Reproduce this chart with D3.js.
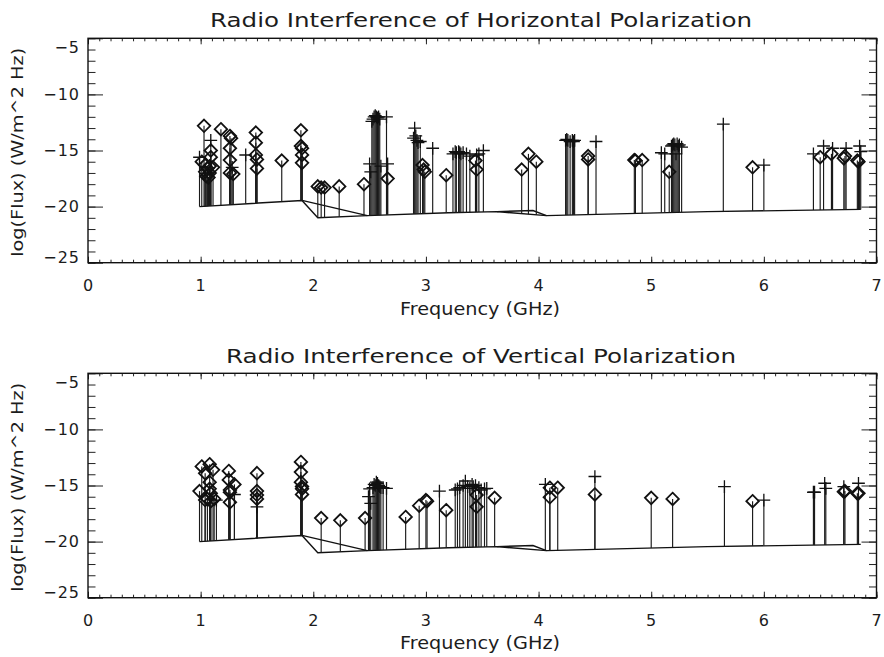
<!DOCTYPE html>
<html>
<head>
<meta charset="utf-8">
<script src="https://cdn.jsdelivr.net/npm/d3@7"></script>
<style>
body { margin: 0; background: #fff; }
text { font-family: "DejaVu Sans", sans-serif; fill: #1c1c1c; }
</style>
</head>
<body>
<div id="chart"></div>
<script>
// threshold (sensitivity) line, shared by both panels
var baseFreq = [0.99, 1.9, 2.04, 2.48, 3.2, 3.63, 4.07, 5.5, 6.86];
var baseFlux = [-20.0, -19.45, -21.0, -20.8, -20.55, -20.45, -20.8, -20.45, -20.25];
var upperFreq = [1.9, 2.48];          // extra back-tracking segment
var upperFlux = [-19.45, -20.8];
var wedgeFreq = [3.63, 3.95, 4.07];   // small wedge near 4 GHz
var wedgeFlux = [-20.45, -20.35, -20.8];

// horizontal polarization
var hFreq = [0.99,1.01,1.03,1.04,1.04,1.05,1.06,1.07,1.08,1.08,1.09,1.09,1.09,1.11,1.18,
  1.26,1.26,1.26,1.26,1.27,1.28,1.29,1.40,
  1.49,1.49,1.49,1.50,1.50,1.72,
  1.89,1.89,1.90,1.90,1.90,
  2.04,2.07,2.10,2.23,2.45,
  2.50,2.51,2.52,2.53,2.54,2.55,2.56,2.57,2.58,2.59,2.60,2.65,2.66,2.66,
  2.89,2.90,2.91,2.92,2.93,2.95,2.97,2.98,2.99,3.06,3.18,
  3.24,3.26,3.27,3.29,3.30,3.31,3.33,3.36,3.39,3.44,3.45,3.45,3.47,3.51,
  3.85,3.91,3.98,
  4.24,4.25,4.26,4.28,4.30,4.31,4.32,4.44,4.44,4.51,
  4.85,4.86,4.92,
  5.09,5.12,5.16,5.18,5.19,5.20,5.21,5.22,5.23,5.24,5.25,5.27,
  5.64,5.90,6.00,
  6.44,6.50,6.53,6.60,6.61,6.71,6.72,6.73,6.83,6.84,6.85,6.86];
var hFlux = [-15.6,-16.0,-12.8,-16.3,-16.9,-17.3,-16.6,-17.4,-16.4,-17.0,-14.1,-15.0,-15.6,-16.5,-13.1,
  -13.7,-14.8,-15.85,-17.0,-13.9,-16.5,-17.1,-15.4,
  -13.4,-14.3,-15.4,-15.8,-16.6,-15.9,
  -13.2,-14.6,-14.8,-15.4,-16.1,
  -18.2,-18.3,-18.3,-18.2,-18.0,
  -16.2,-16.9,-12.4,-12.2,-12.0,-11.9,-12.0,-12.1,-12.0,-12.2,-16.4,-12.0,-16.2,-17.5,
  -13.9,-13.0,-13.7,-14.1,-14.3,-14.2,-16.3,-16.7,-16.9,-14.8,-17.2,
  -15.3,-15.1,-15.2,-15.1,-15.2,-15.3,-15.2,-15.3,-15.5,-15.9,-16.7,-15.4,-15.3,-15.0,
  -16.7,-15.3,-16.0,
  -14.1,-14.0,-14.1,-14.2,-14.1,-14.2,-14.1,-15.5,-15.8,-14.2,
  -15.85,-15.9,-15.85,
  -15.2,-15.3,-16.9,-14.6,-14.5,-14.4,-14.5,-15.3,-14.4,-14.6,-14.5,-14.7,
  -12.65,-16.5,-16.3,
  -15.3,-15.6,-14.6,-15.3,-14.8,-15.7,-15.5,-14.8,-15.9,-16.0,-14.6,-15.1];
var hSym = ["p","d","d","d","d","d","d","d","d","d","p","d","d","d","d",
  "d","d","d","d","d","p","d","p",
  "d","d","d","d","d","d",
  "d","d","d","d","d",
  "d","d","d","d","d",
  "p","p","p","p","p","p","p","p","p","p","p","p","p","d",
  "p","p","p","p","p","p","d","d","d","p","d",
  "p","p","p","p","p","p","p","p","p","d","d","p","p","p",
  "d","d","d",
  "p","p","p","p","p","p","p","d","d","p",
  "d","d","d",
  "p","p","d","p","p","p","p","p","p","p","p","p",
  "p","d","p",
  "p","d","p","d","p","d","d","p","d","d","p","p"];

// vertical polarization
var vFreq = [0.99,1.01,1.04,1.04,1.06,1.08,1.08,1.08,1.09,1.09,1.11,1.12,1.14,
  1.25,1.25,1.26,1.26,1.26,1.30,1.30,
  1.50,1.50,1.50,1.50,1.50,
  1.89,1.89,1.89,1.90,1.90,1.90,
  2.07,2.24,2.46,
  2.49,2.50,2.51,2.53,2.54,2.55,2.56,2.57,2.58,2.59,2.60,2.62,2.65,
  2.82,2.94,3.00,3.01,3.12,3.18,
  3.26,3.28,3.30,3.33,3.35,3.37,3.39,3.41,3.42,3.44,3.45,3.45,3.47,3.49,3.52,3.54,3.61,
  4.06,4.10,4.10,4.17,4.50,4.50,
  5.00,5.19,5.65,5.90,6.00,
  6.44,6.45,6.54,6.55,6.71,6.71,6.72,6.83,6.84,6.84];
var vFlux = [-15.5,-13.3,-13.9,-16.3,-16.2,-13.1,-14.7,-15.3,-15.7,-16.4,-13.6,-16.2,-16.3,
  -13.7,-14.5,-15.4,-15.6,-16.5,-14.9,-15.8,
  -13.9,-15.5,-15.85,-16.2,-16.9,
  -12.9,-13.8,-14.7,-15.1,-15.3,-15.8,
  -17.9,-18.1,-17.9,
  -16.0,-15.3,-16.6,-15.2,-14.9,-15.0,-14.7,-14.8,-15.0,-15.1,-15.2,-15.2,-15.25,
  -17.8,-16.8,-16.3,-16.4,-15.5,-17.2,
  -15.4,-15.3,-15.2,-15.0,-14.6,-15.1,-15.25,-14.9,-15.1,-15.0,-15.85,-16.9,-15.2,-15.4,-15.3,-15.25,-16.1,
  -14.9,-15.2,-16.05,-15.2,-14.2,-15.8,
  -16.1,-16.2,-15.1,-16.4,-16.3,
  -15.6,-15.6,-14.8,-15.25,-15.1,-15.55,-15.5,-15.7,-15.7,-14.8];
var vSym = ["d","d","d","d","d","d","d","d","d","d","d","d","p",
  "d","d","d","d","d","d","p",
  "d","d","d","d","p",
  "d","d","d","d","d","d",
  "d","d","d",
  "p","p","p","p","p","p","p","p","p","p","p","p","p",
  "d","d","d","d","p","d",
  "p","p","p","p","p","p","p","p","p","p","d","d","p","p","p","p","d",
  "p","d","d","d","p","d",
  "d","d","p","d","p",
  "p","p","p","p","p","d","d","d","d","p"];

var xTicks = [0, 1, 2, 3, 4, 5, 6, 7];
var yTicks = [-25, -20, -15, -10, -5];

var titles = ["Radio Interference of Horizontal Polarization", "Radio Interference of Vertical Polarization"];

function init() {
    var w = 884, h = 657;
    var left = 88, right = 876.5, ph = 224.4;

    var svg = d3.select("#chart").append("svg")
        .attr("width", w).attr("height", h)
        .style("background", "#fff");

    var x = d3.scaleLinear().domain([0, 7]).range([left, right]);
    var base = d3.scaleLinear().domain(baseFreq).range(baseFlux); // piecewise threshold

    var panels = [
        {top: 38.3, title: titles[0], tLen: 542, tY: 27, fY: 315, freq: hFreq, flux: hFlux, sym: hSym},
        {top: 373.3, title: titles[1], tLen: 510, tY: 363, fY: 649, freq: vFreq, flux: vFlux, sym: vSym}
    ];

    var xMinor = d3.range(0, 7.001, 0.1);
    var yMinor = d3.range(-25, -4, 1);

    panels.forEach(function(p) {
        var y = d3.scaleLinear().domain([-25, -5]).range([p.top + ph, p.top]);
        var g = svg.append("g");

        // title
        g.append("text").attr("x", 481).attr("y", p.tY)
            .attr("text-anchor", "middle").attr("font-size", 20)
            .attr("textLength", p.tLen).attr("lengthAdjust", "spacingAndGlyphs")
            .text(p.title);

        // axes (ticks point inward, like IDL)
        g.append("g").attr("transform", "translate(0," + (p.top + ph) + ")")
            .call(d3.axisBottom(x).tickValues(xTicks).tickSize(-6).tickPadding(16.5).tickFormat(d3.format("d")));
        g.append("g").attr("transform", "translate(0," + (p.top + ph) + ")")
            .call(d3.axisBottom(x).tickValues(xMinor).tickSize(-3).tickFormat(""));
        g.append("g").attr("transform", "translate(0," + p.top + ")")
            .call(d3.axisTop(x).tickValues(xTicks).tickSize(-6).tickFormat(""));
        g.append("g").attr("transform", "translate(0," + p.top + ")")
            .call(d3.axisTop(x).tickValues(xMinor).tickSize(-3).tickFormat(""));

        var lft = g.append("g").attr("transform", "translate(" + left + ",0)")
            .call(d3.axisLeft(y).tickValues(yTicks).tickSize(-15).tickPadding(8));
        g.append("g").attr("transform", "translate(" + left + ",0)")
            .call(d3.axisLeft(y).tickValues(yMinor).tickSize(-7.5).tickFormat(""));
        g.append("g").attr("transform", "translate(" + right + ",0)")
            .call(d3.axisRight(y).tickValues(yTicks).tickSize(-15).tickFormat(""));
        g.append("g").attr("transform", "translate(" + right + ",0)")
            .call(d3.axisRight(y).tickValues(yMinor).tickSize(-7.5).tickFormat(""));

        g.selectAll(".domain").remove();
        g.selectAll(".tick line").attr("stroke", "#222").attr("stroke-width", 1);
        g.selectAll(".tick text").attr("font-size", 16).attr("letter-spacing", 1)
            .attr("font-family", "DejaVu Sans").attr("fill", "#1c1c1c");
        // end labels sit slightly inside the frame in the original
        lft.selectAll(".tick text").attr("dy", function(d) {
            return d === -5 ? "0.9em" : (d === -25 ? "0.0em" : "0.32em");
        });

        // frame
        g.append("rect").attr("x", left).attr("y", p.top)
            .attr("width", right - left).attr("height", ph)
            .attr("fill", "none").attr("stroke", "#111").attr("stroke-width", 1.4);

        // axis titles
        g.append("text").attr("x", 480).attr("y", p.fY)
            .attr("text-anchor", "middle").attr("font-size", 18)
            .attr("textLength", 160).attr("lengthAdjust", "spacingAndGlyphs")
            .text("Frequency (GHz)");
        g.append("text")
            .attr("transform", "translate(23," + (p.top + 114) + ") rotate(-90)")
            .attr("text-anchor", "middle").attr("font-size", 16)
            .attr("textLength", 209).attr("lengthAdjust", "spacingAndGlyphs")
            .text("log(Flux) (W/m^2 Hz)");

        // threshold lines
        var line = d3.line().x(function(d) { return x(d[0]); }).y(function(d) { return y(d[1]); });
        [[baseFreq, baseFlux], [upperFreq, upperFlux], [wedgeFreq, wedgeFlux]].forEach(function(s) {
            g.append("path").datum(d3.zip(s[0], s[1]))
                .attr("d", line).attr("fill", "none")
                .attr("stroke", "#111").attr("stroke-width", 1.4);
        });

        var idx = d3.range(p.freq.length);

        // stems from threshold up to the measured flux
        g.selectAll("line.stem").data(idx).enter().append("line")
            .attr("class", "stem")
            .attr("x1", function(i) { return x(p.freq[i]); })
            .attr("x2", function(i) { return x(p.freq[i]); })
            .attr("y1", function(i) { return y(base(p.freq[i])); })
            .attr("y2", function(i) { return y(p.flux[i]); })
            .attr("stroke", "#1a1a1a").attr("stroke-width", 1.15);

        var diamond = d3.symbol().type(d3.symbolDiamond2).size(100);
        var plus = d3.symbol().type(d3.symbolPlus).size(55);

        g.selectAll("path.mark").data(idx).enter().append("path")
            .attr("class", "mark")
            .attr("transform", function(i) { return "translate(" + x(p.freq[i]) + "," + y(p.flux[i]) + ")"; })
            .attr("d", function(i) { return p.sym[i] === "d" ? diamond() : plus(); })
            .attr("fill", "none")
            .attr("stroke", "#111")
            .attr("stroke-width", function(i) { return p.sym[i] === "d" ? 1.8 : 1.3; });
    });
}
window.onload = init;
</script>
</body>
</html>
